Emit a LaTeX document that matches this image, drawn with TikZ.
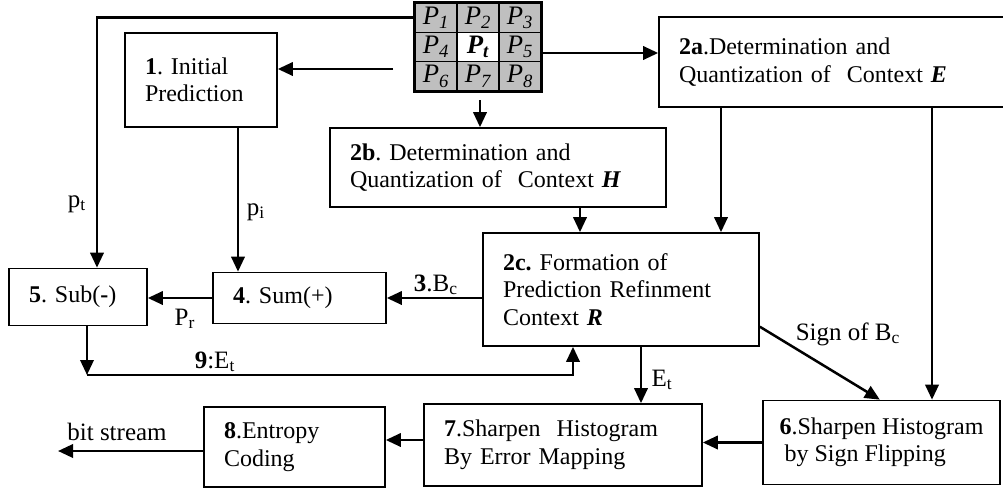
\documentclass[tikz,border=0pt]{standalone}
\usepackage{fontspec}
\setmainfont{Liberation Serif}
\usetikzlibrary{arrows.meta}
\frenchspacing
\tikzset{
  blk/.style={draw, line width=1pt, inner xsep=12pt, inner ysep=0pt, align=left,
    font=\fontsize{14.4}{16.5}\selectfont},
  cell/.style={draw, line width=0.8pt, fill=gray!50, minimum width=25.2pt,
    minimum height=17.6pt, inner sep=0pt, font=\fontsize{16}{18}\selectfont\itshape},
  arr/.style={line width=1.5pt, -{Triangle[length=9pt,width=8pt]}},
  lbl/.style={inner sep=0pt, font=\fontsize{15}{17}\selectfont}
}

\begin{document}
\begin{tikzpicture}[x=0.6pt, y=-0.6pt]
\useasboundingbox (0,0) rectangle (1003,488);

% neighbourhood of the current pixel
\foreach \n/\x/\y in {1/436/17.7, 2/478/17.7, 3/520/17.7, 4/436/47, 5/520/47,
                      6/436/76.3, 7/478/76.3, 8/520/76.3}
  \node[cell] (p\n) at (\x,\y) {P\textsubscript{\n}};
\node[cell, fill=white, font=\fontsize{16}{18}\selectfont\bfseries\itshape] (pt) at (478,47) {P\textsubscript{t}};
\draw[line width=1.2pt] (p1.north west) rectangle (p8.south east);

% processing blocks
\node[blk, text width=67.2pt, minimum height=56.4pt] (init) at (201,80) {\textbf{1}. Initial\\Prediction};
\node[blk, text width=185.4pt, minimum height=54pt] (ctxE) at (833.5,62) {\textbf{2a}.Determination and\\Quantization of~ Context \textbf{\textit{E}}};
\node[blk, text width=177.6pt, minimum height=47.4pt] (ctxH) at (498,167.5) {\textbf{2b}. Determination and\\Quantization of~ Context \textbf{\textit{H}}};
\node[blk, text width=141.6pt, minimum height=67.8pt] (ctxR) at (621,289.5) {\textbf{2c.} Formation of\\Prediction Refinment\\Context \textbf{\textit{R}}};
\node[blk, text width=79.8pt, minimum height=30.6pt] (sum) at (299.5,298) {\textbf{4}. Sum(+)};
\node[blk, text width=58.8pt, minimum height=34.2pt] (sub) at (78,297) {\textbf{5}. Sub(\textbf{-})};
\node[blk, inner xsep=0pt, minimum width=142.2pt, minimum height=50.4pt] (flip) at (881.5,442.5) {\textbf{6}.Sharpen Histogram\\\hspace*{3pt}by Sign Flipping};
\node[blk, text width=142.8pt, minimum height=49.2pt] (emap) at (563,445) {\textbf{7}.Sharpen~ Histogram\\By Error Mapping};
\node[blk, text width=84.6pt, minimum height=48pt] (entropy) at (294.5,447) {\textbf{8}.Entropy\\Coding};

% tap points of the wires
\coordinate (gl) at (393,69);
\coordinate (gr) at (541,53);
\coordinate (gb) at (480,100);
\coordinate (ptx) at (97,0);
\coordinate (pix) at (238,0);
\coordinate (fbl) at (87,375);
\coordinate (fbr) at (573,375);
\coordinate (hx) at (580,0);
\coordinate (ex) at (721,0);
\coordinate (fx) at (932,0);
\coordinate (etx) at (641,0);
\coordinate (bs) at (58,451);

% wires from the neighbourhood
\draw[arr] (gl) -- (gl -| init.east);
\draw[arr] (gr) -- (gr -| ctxE.west);
\draw[arr] (gb) -- (gb |- ctxH.north);
\draw[arr] (p1.west) -| (ptx |- sub.north);

% prediction loop
\draw[arr] (pix |- init.south) -- (pix |- sum.north);
\draw[arr] (ctxR.west |- sum.east) -- (sum.east);
\draw[arr] (sum.west) -- (sum.west -| sub.east);
\draw[arr] (fbl |- sub.south) -- (fbl);
\draw[arr] (fbl) -| (ctxR.south -| fbr);

% contexts
\draw[arr] (hx |- ctxH.south) -- (hx |- ctxR.north);
\draw[arr] (ex |- ctxE.south) -- (ex |- ctxR.north);
\draw[arr] (fx |- ctxE.south) -- (fx |- flip.north);
\draw[arr] (ctxR.-15.6) -- ([xshift=-1pt]flip.north);

% histogram sharpening and coding
\draw[arr] (etx |- ctxR.south) -- (etx |- emap.north);
\draw[arr] (flip.west) -- (flip.west -| emap.east);
\draw[arr] ([yshift=3pt]emap.west) -- ([yshift=3pt]emap.west -| entropy.east);
\draw[arr] (entropy.west |- bs) -- (bs);

% wire labels
\node[lbl] (lpt) at (77,204) {p\textsubscript{t}};
\node[lbl] (lpi) at (256,212) {p\textsubscript{i}};
\node[lbl] (lbc) at (436,285) {\textbf{3}.B\textsubscript{c}};
\node[lbl] (lpr) at (185,319) {P\textsubscript{r}};
\node[lbl] (let) at (215,362) {\textbf{9}:E\textsubscript{t}};
\node[lbl] (lsign) at (848,334) {Sign of B\textsubscript{c}};
\node[lbl] (let2) at (662,380) {E\textsubscript{t}};
\node[lbl] (lbit) at (117,432) {bit stream};
\end{tikzpicture}
\end{document}
